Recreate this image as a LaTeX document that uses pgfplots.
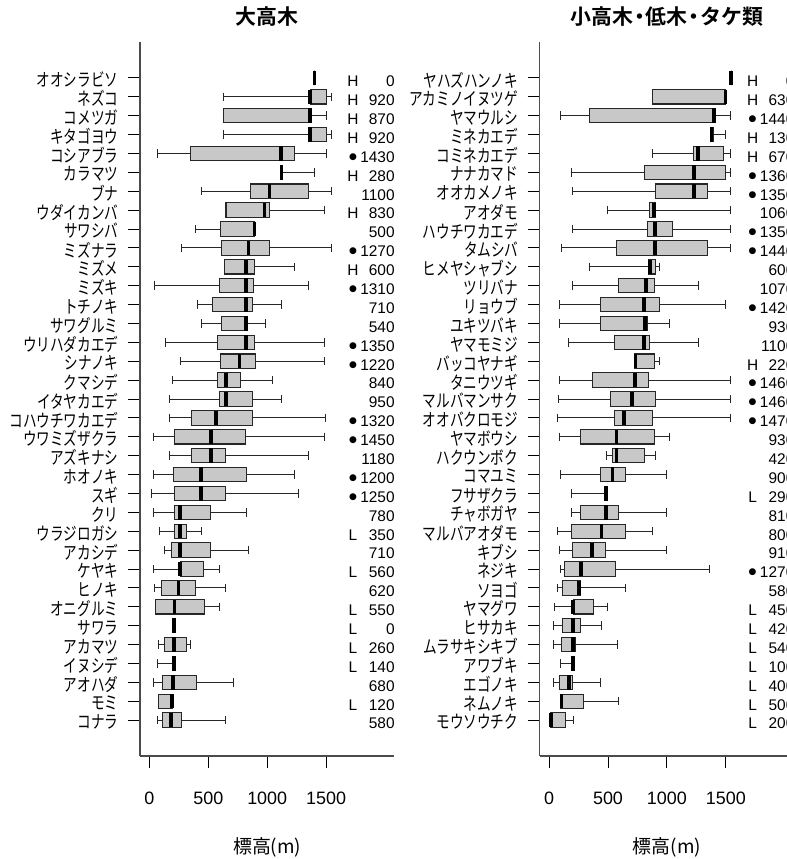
\documentclass[border=0pt]{standalone}
\usepackage{fontspec}
\setmainfont{Liberation Sans}
\newfontfamily\jp[FakeStretch=0.76]{Noto Sans CJK JP}
\newfontfamily\jpn{Noto Sans CJK JP}
\newfontfamily\jpb{Noto Sans CJK JP Bold}
\newfontfamily\dv{DejaVu Sans}
\usepackage{pgfplots}
\usepackage{pgfplotstable}
\usepgfplotslibrary{statistics}
\pgfplotsset{compat=1.18}

\definecolor{boxfill}{RGB}{200,200,200}
% flag codes in the tables: H, L, D (dot), N (none)
\def\flagH{H}
\def\flagL{L}
\def\flagD{{\dv\fontsize{9}{9}\selectfont ●}}
\def\flagN{}
\newcommand\nakaguro{\makebox[13bp][c]{・}}

% 大高木
\pgfplotstableread{
pos lw lq med uq uw flag range
1 1400 1400 1400 1400 1400 H 0
2 630 1365 1365 1500 1550 H 920
3 630 630 1365 1365 1500 H 870
4 630 1365 1365 1500 1550 H 920
5 70 345 1118 1230 1500 D 1430
6 1120 1120 1120 1120 1400 H 280
7 445 855 1020 1350 1550 N 1100
8 650 650 977 1020 1485 H 830
9 395 600 892 892 892 N 500
10 275 610 840 1020 1550 D 1270
11 637 637 821 892 1230 H 600
12 42 592 821 883 1350 D 1310
13 411 538 821 875 1118 N 710
14 440 614 821 821 985 N 540
15 133 578 821 892 1484 D 1350
16 266 603 765 903 1484 D 1220
17 198 578 649 773 1048 N 840
18 167 595 649 875 1118 N 950
19 167 360 566 875 1492 D 1320
20 34 210 521 813 1484 D 1450
21 167 357 521 649 1350 N 1180
22 37 201 436 821 1229 D 1200
23 20 210 436 649 1266 D 1250
24 37 210 261 521 821 N 780
25 85 210 261 317 439 L 350
26 127 190 261 521 841 N 710
27 37 261 261 459 592 L 560
28 42 102 246 394 649 N 620
29 48 48 212 464 592 L 550
30 210 210 210 210 210 L 0
31 80 127 210 317 346 L 260
32 71 210 210 210 210 L 140
33 37 110 201 402 713 N 680
34 75 75 192 195 195 L 120
35 71 110 184 275 649 N 580
}\tabA

% 小高木・低木・タケ類
\pgfplotstableread{
pos lw lq med uq uw flag range
1 1545 1545 1545 1545 1545 H 0
2 878 878 1498 1498 1498 H 630
3 99 346 1399 1399 1540 D 1440
4 1370 1370 1377 1399 1500 H 130
5 875 1229 1266 1478 1540 H 670
6 190 807 1229 1500 1540 D 1360
7 198 900 1229 1345 1540 D 1350
8 493 855 892 906 1540 N 1060
9 198 835 900 1048 1540 D 1350
10 108 572 900 1345 1540 D 1440
11 346 841 855 900 940 N 600
12 198 589 821 892 1266 N 1070
13 85 436 807 940 1500 D 1420
14 91 436 815 832 1019 N 930
15 167 555 807 855 1266 N 1100
16 728 728 735 892 940 H 220
17 91 365 728 847 1540 D 1460
18 82 521 705 900 1540 D 1460
19 71 555 637 875 1540 D 1470
20 91 266 572 892 1019 N 930
21 487 538 572 807 900 N 420
22 99 436 538 646 997 N 900
23 190 481 481 481 481 L 290
24 190 266 481 589 997 N 810
25 71 190 445 646 875 N 800
26 91 198 365 481 997 N 910
27 99 128 269 564 1365 D 1270
28 71 111 255 266 646 N 580
29 43 204 204 380 493 L 450
30 34 111 204 269 445 L 420
31 34 105 204 224 578 L 540
32 99 204 204 204 204 L 100
33 34 91 170 198 439 L 400
34 99 99 105 289 589 L 500
35 14 14 14 142 207 L 200
}\tabB

\pgfplotsset{
  panel/.style={
    scale only axis, width=254.4bp, height=714bp, anchor=south west,
    xmin=-80, xmax=2080, ymin=-0.9, ymax=36.9, y dir=reverse,
    axis x line*=bottom, axis y line*=left,
    axis line style={-, black!70, line width=1.5bp},
    tick style={black, line width=1bp},
    tick align=outside, major tick length=12bp,
    xtick={0,500,1000,1500}, xticklabels={0,500,1000,1500},
    ytick={1,...,35},
    xticklabel style={font=\fontsize{18}{18}\selectfont, anchor=north, yshift=-20bp},
    yticklabel style={font=\jp\fontsize{18}{18}\selectfont, anchor=east, xshift=-6bp, yshift=-2bp},
    title style={font=\jpb\fontsize{21}{21}\selectfont, anchor=center, at={(0.5,1)}, yshift=19bp},
    xlabel={\jpn 標高(m)},
    xlabel style={font=\fontsize{19}{19}\selectfont, anchor=center, at={(0.5,0)}, yshift=-91bp},
    boxplot/box extend=0.76,
    boxplot/whisker extend=0.45,
  },
  boxes/.style={
    draw=black!85, fill=boxfill, line width=1.1bp,
    boxplot/every whisker/.style={draw=black!85, line width=1bp},
    boxplot/every median/.style={draw=black, line width=3.5bp},
  },
  flags/.style={draw=none, nodes near coords={\csname flag\pgfplotspointmeta\endcsname},
    point meta=explicit symbolic,
    nodes near coords style={font=\fontsize{15.5}{15.5}\selectfont, anchor=center, yshift=-3.5bp}},
  ranges/.style={draw=none, nodes near coords, point meta=explicit symbolic,
    nodes near coords style={font=\fontsize{15.5}{15.5}\selectfont, anchor=east, xshift=4bp, yshift=-3.5bp}},
}

% one box per table row
\newcommand\drawboxes[1]{%
  \pgfplotsinvokeforeach{0,...,34}{%
    \pgfplotstablegetelem{##1}{lw}\of#1\let\vlw\pgfplotsretval
    \pgfplotstablegetelem{##1}{lq}\of#1\let\vlq\pgfplotsretval
    \pgfplotstablegetelem{##1}{med}\of#1\let\vmed\pgfplotsretval
    \pgfplotstablegetelem{##1}{uq}\of#1\let\vuq\pgfplotsretval
    \pgfplotstablegetelem{##1}{uw}\of#1\let\vuw\pgfplotsretval
    \pgfplotstablegetelem{##1}{pos}\of#1\let\vpos\pgfplotsretval
    \edef\tmp{\noexpand\addplot[boxes, boxplot prepared={draw position=\vpos,
      lower whisker=\vlw, lower quartile=\vlq, median=\vmed,
      upper quartile=\vuq, upper whisker=\vuw}] coordinates {};}%
    \tmp
  }%
}

\begin{document}
\begin{tikzpicture}
\useasboundingbox (0,0) rectangle (787bp,859bp);
\clip (0,0) rectangle (787bp,859bp);

\begin{axis}[panel, at={(140bp,103bp)}, title={大高木},
  yticklabels={オオシラビソ,ネズコ,コメツガ,キタゴヨウ,コシアブラ,カラマツ,ブナ,ウダイカンバ,サワシバ,ミズナラ,ミズメ,ミズキ,トチノキ,サワグルミ,ウリハダカエデ,シナノキ,クマシデ,イタヤカエデ,コハウチワカエデ,ウワミズザクラ,アズキナシ,ホオノキ,スギ,クリ,ウラジロガシ,アカシデ,ケヤキ,ヒノキ,オニグルミ,サワラ,アカマツ,イヌシデ,アオハダ,モミ,コナラ}]
\drawboxes{\tabA}
\addplot[flags] table[x expr=1728, y=pos, meta=flag] {\tabA};
\addplot[ranges] table[x expr=2078, y=pos, meta=range] {\tabA};
\end{axis}

\begin{axis}[panel, at={(539.7bp,103bp)}, title={小高木\nakaguro 低木\nakaguro タケ類},
  yticklabels={ヤハズハンノキ,アカミノイヌツゲ,ヤマウルシ,ミネカエデ,コミネカエデ,ナナカマド,オオカメノキ,アオダモ,ハウチワカエデ,タムシバ,ヒメヤシャブシ,ツリバナ,リョウブ,ユキツバキ,ヤマモミジ,バッコヤナギ,タニウツギ,マルバマンサク,オオバクロモジ,ヤマボウシ,ハクウンボク,コマユミ,フサザクラ,チャボガヤ,マルバアオダモ,キブシ,ネジキ,ソヨゴ,ヤマグワ,ヒサカキ,ムラサキシキブ,アワブキ,エゴノキ,ネムノキ,モウソウチク}]
\drawboxes{\tabB}
\addplot[flags] table[x expr=1728, y=pos, meta=flag] {\tabB};
\addplot[ranges] table[x expr=2078, y=pos, meta=range] {\tabB};
\end{axis}
\end{tikzpicture}
\end{document}
